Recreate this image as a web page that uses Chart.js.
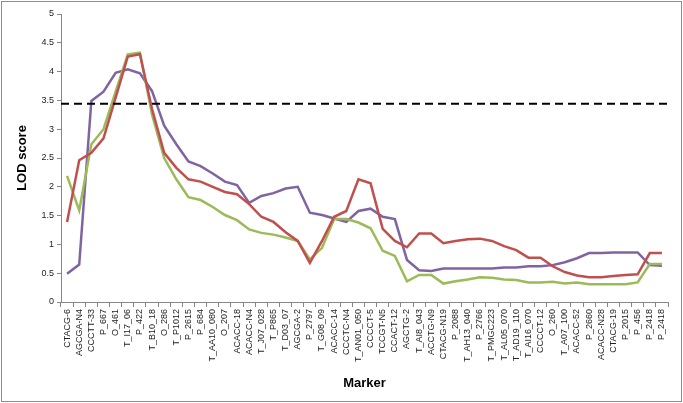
<!DOCTYPE html>
<html>
<head>
<meta charset="utf-8">
<script src="https://cdn.jsdelivr.net/npm/chart.js@4.4.1/dist/chart.umd.min.js"></script>
<style>
  html, body { margin: 0; padding: 0; background: #fff; }
</style>
</head>
<body>
<canvas id="lodChart" width="683" height="403"></canvas>
<script>
"use strict";

// markers along the x axis
var markers = ["CTACG-6", "AGCGA-N4", "CCCTT-33", "P_667", "O_461", "T_I17_06", "P_422", "T_B10_18",
    "O_286", "T_P1012", "P_2615", "P_684", "T_AA10_080", "O_207", "ACACC-18", "ACACC-N4", "T_J07_028",
    "T_P865", "T_D03_07", "AGCGA-2", "P_2797", "T_G08_09", "ACACC-14", "CCCTC-N4", "T_AN01_050",
    "CCCCT-5", "TCCGT-N5", "CCACT-12", "AGCTG-2", "T_AI8_043", "ACCTG-N9", "CTACG-N19", "P_2088",
    "T_AH13_040", "P_2766", "T_PMGC223", "T_AL05_070", "T_AD19_110", "T_AI16_070", "CCCCT-12",
    "O_260", "T_A07_100", "ACACC-52", "P_2660", "ACACC-N28", "CTACG-19", "P_2015", "P_456",
    "P_2418", "P_2418"];

// LOD scores, one value per marker
var redLod = [1.39, 2.46, 2.59, 2.84, 3.55, 4.26, 4.30, 3.35, 2.59, 2.33, 2.13, 2.09, 2.00, 1.91,
    1.87, 1.70, 1.48, 1.39, 1.21, 1.06, 0.68, 1.06, 1.48, 1.58, 2.13, 2.06, 1.27, 1.06, 0.95, 1.19,
    1.19, 1.02, 1.06, 1.09, 1.10, 1.06, 0.97, 0.90, 0.77, 0.77, 0.62, 0.52, 0.46, 0.43, 0.43, 0.45,
    0.47, 0.48, 0.85, 0.85];
var greenLod = [2.19, 1.59, 2.74, 3.00, 3.65, 4.30, 4.33, 3.25, 2.50, 2.13, 1.82, 1.77, 1.65, 1.51,
    1.42, 1.26, 1.20, 1.17, 1.12, 1.06, 0.74, 0.94, 1.44, 1.44, 1.38, 1.28, 0.89, 0.80, 0.36, 0.47,
    0.47, 0.32, 0.36, 0.39, 0.43, 0.42, 0.39, 0.38, 0.34, 0.34, 0.35, 0.32, 0.34, 0.31, 0.31, 0.31,
    0.31, 0.34, 0.66, 0.66];
var purpleLod = [0.49, 0.65, 3.49, 3.65, 3.98, 4.04, 3.97, 3.66, 3.06, 2.74, 2.44, 2.36, 2.23, 2.09,
    2.03, 1.72, 1.84, 1.89, 1.97, 2.00, 1.55, 1.51, 1.45, 1.39, 1.58, 1.62, 1.48, 1.44, 0.73, 0.55,
    0.54, 0.58, 0.58, 0.58, 0.58, 0.58, 0.60, 0.60, 0.62, 0.62, 0.64, 0.69, 0.76, 0.85, 0.85, 0.86,
    0.86, 0.86, 0.64, 0.63];

var threshold = 3.44;
var yTicks = [0, 0.5, 1, 1.5, 2, 2.5, 3, 3.5, 4, 4.5, 5];

var axisGray = "#868686";

function series(data, color) {
    return {
        data: data,
        borderColor: color,
        backgroundColor: color,
        borderWidth: 2.5,
        pointRadius: 0,
        tension: 0,
        fill: false,
    };
}

// dashed significance line across the full plot width
var thresholdLine = {
    id: "thresholdLine",
    afterDatasetsDraw: function (chart) {
        var ctx = chart.ctx;
        var y = chart.scales.y.getPixelForValue(threshold);
        ctx.save();
        ctx.strokeStyle = "#000";
        ctx.lineWidth = 2;
        ctx.setLineDash([8, 5]);
        ctx.beginPath();
        ctx.moveTo(chart.chartArea.left, y);
        ctx.lineTo(chart.chartArea.right, y);
        ctx.stroke();
        ctx.restore();
    },
};

// thin frame round the whole chart
var frame = {
    id: "frame",
    afterDraw: function (chart) {
        var ctx = chart.ctx;
        ctx.save();
        ctx.strokeStyle = "#8c8c8c";
        ctx.lineWidth = 1;
        ctx.strokeRect(1.5, 1.5, chart.width - 3, chart.height - 3);
        ctx.restore();
    },
};

var LODCHART = document.getElementById("lodChart");
var lodChart = new Chart(LODCHART, {
    type: "line",
    data: {
        labels: markers,
        datasets: [
            series(redLod, "#c0504d"),
            series(greenLod, "#9bbb59"),
            series(purpleLod, "#8064a2"),
        ],
    },
    options: {
        responsive: false,
        animation: false,
        layout: { padding: { left: 15, right: 15, top: 14, bottom: 12 } },
        plugins: {
            legend: { display: false },
            tooltip: { enabled: false },
        },
        scales: {
            x: {
                offset: true,
                grid: {
                    offset: true,
                    drawOnChartArea: false,
                    drawTicks: true,
                    tickLength: 5,
                    color: axisGray,
                },
                border: { color: axisGray, width: 1 },
                ticks: {
                    autoSkip: false,
                    minRotation: 90,
                    maxRotation: 90,
                    padding: 2,
                    color: "#222",
                    font: { family: "Liberation Sans", size: 9 },
                },
                title: {
                    display: true,
                    text: "Marker",
                    color: "#000",
                    padding: { top: 4, bottom: 0 },
                    font: { family: "Liberation Sans", size: 13, weight: "bold" },
                },
                afterFit: function (scale) {
                    scale.height = 89;
                },
            },
            y: {
                min: 0,
                max: 5,
                afterBuildTicks: function (scale) {
                    scale.ticks = yTicks.map(function (v) { return { value: v }; });
                },
                grid: {
                    drawOnChartArea: false,
                    drawTicks: true,
                    tickLength: 4,
                    color: axisGray,
                },
                border: { color: axisGray, width: 1 },
                ticks: {
                    padding: 3,
                    color: "#222",
                    font: { family: "Liberation Sans", size: 9 },
                    callback: function (v) { return String(v); },
                },
                title: {
                    display: true,
                    text: "LOD score",
                    color: "#000",
                    padding: { top: 0, bottom: 4 },
                    font: { family: "Liberation Sans", size: 13, weight: "bold" },
                },
                afterFit: function (scale) {
                    scale.width = 46;
                },
            },
        },
    },
    plugins: [thresholdLine, frame],
});
</script>
</body>
</html>
